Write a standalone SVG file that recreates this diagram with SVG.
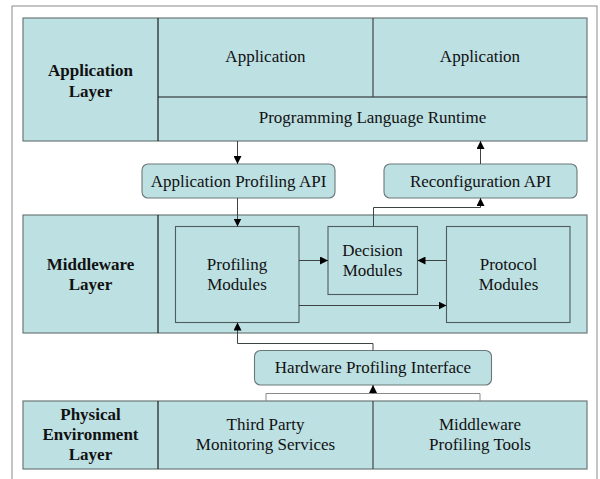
<svg xmlns="http://www.w3.org/2000/svg" width="600" height="479" viewBox="0 0 600 479">
  <style>
    .layer { fill: #bde0e3; stroke: #6b7878; stroke-width: 1.2; }
    .div { stroke: #1a1a1a; stroke-width: 1.2; fill: none; }
    .mod { fill: #bde0e3; stroke: #4f5c5c; stroke-width: 1.1; }
    .api { fill: #bde0e3; stroke: #6b7878; stroke-width: 1.1; }
    .t { font-family: "Liberation Serif", "Times New Roman", serif; font-size: 17px; fill: #111; text-anchor: middle; }
    .b { font-weight: bold; }
    .wire { fill: none; stroke: #3d4444; stroke-width: 1; }
    .light { fill: none; stroke: #8a8a8a; stroke-width: 1; }
  </style>
  <defs>
    <marker id="arr" viewBox="0 0 8 8" refX="8" refY="4" markerWidth="8" markerHeight="8" markerUnits="userSpaceOnUse" orient="auto">
      <path d="M0,0 L8,4 L0,8 Z" fill="#000"/>
    </marker>
  </defs>

  <!-- page frame -->
  <rect x="12" y="6" width="585" height="490" fill="#fff" stroke="#8a8a8a" stroke-width="1"/>

  <!-- Application layer -->
  <g id="application-layer">
    <rect class="layer" x="23" y="18" width="564" height="123"/>
    <line class="div" x1="158" y1="18" x2="158" y2="141"/>
    <line class="div" x1="158" y1="97" x2="587" y2="97"/>
    <line class="div" x1="373" y1="18" x2="373" y2="97" style="stroke:#444"/>
    <text class="t b" x="90.5" y="76">Application</text>
    <text class="t b" x="90.5" y="97">Layer</text>
  </g>
  <g id="application-1"><text class="t" x="265.5" y="62">Application</text></g>
  <g id="application-2"><text class="t" x="480" y="62">Application</text></g>
  <g id="runtime"><text class="t" x="372.5" y="123">Programming Language Runtime</text></g>

  <!-- APIs -->
  <g id="app-profiling-api">
    <rect class="api" x="142" y="164" width="193" height="34" rx="6"/>
    <text class="t" x="238.5" y="187">Application Profiling API</text>
  </g>
  <g id="reconfiguration-api">
    <rect class="api" x="384" y="164" width="193" height="34" rx="6"/>
    <text class="t" x="480.5" y="187">Reconfiguration API</text>
  </g>

  <!-- Middleware layer -->
  <g id="middleware-layer">
    <rect class="layer" x="23" y="215" width="564" height="118"/>
    <line class="div" x1="158" y1="215" x2="158" y2="333"/>
    <text class="t b" x="90.5" y="270">Middleware</text>
    <text class="t b" x="90.5" y="290">Layer</text>
  </g>
  <g id="profiling-modules">
    <rect class="mod" x="175.5" y="226.5" width="123.5" height="96"/>
    <text class="t" x="237" y="270">Profiling</text>
    <text class="t" x="237" y="290">Modules</text>
  </g>
  <g id="decision-modules">
    <rect class="mod" x="328" y="226.5" width="89.5" height="68"/>
    <text class="t" x="372.5" y="256">Decision</text>
    <text class="t" x="372.5" y="276">Modules</text>
  </g>
  <g id="protocol-modules">
    <rect class="mod" x="446.5" y="226.5" width="123.5" height="96"/>
    <text class="t" x="508.5" y="270">Protocol</text>
    <text class="t" x="508.5" y="290">Modules</text>
  </g>

  <!-- Hardware interface -->
  <g id="hardware-profiling-interface">
    <rect class="api" x="254.5" y="350.5" width="237" height="34.5" rx="6"/>
    <text class="t" x="373" y="373">Hardware Profiling Interface</text>
  </g>

  <!-- Physical layer -->
  <g id="physical-layer">
    <rect class="layer" x="23" y="401" width="564" height="68"/>
    <line class="div" x1="158" y1="401" x2="158" y2="469"/>
    <line class="div" x1="373" y1="401" x2="373" y2="469" style="stroke:#444"/>
    <text class="t b" x="90.5" y="420">Physical</text>
    <text class="t b" x="90.5" y="440">Environment</text>
    <text class="t b" x="90.5" y="460">Layer</text>
  </g>
  <g id="third-party">
    <text class="t" x="265.5" y="430">Third Party</text>
    <text class="t" x="265.5" y="450">Monitoring Services</text>
  </g>
  <g id="profiling-tools">
    <text class="t" x="480" y="430">Middleware</text>
    <text class="t" x="480" y="450">Profiling Tools</text>
  </g>

  <!-- connectors -->
  <g id="connectors">
    <path class="wire" d="M237.5,141 V164" marker-end="url(#arr)"/>
    <path class="wire" d="M237.5,198 V226.5" marker-end="url(#arr)"/>
    <path class="wire" d="M480.5,164 V141" marker-end="url(#arr)"/>
    <path class="wire" d="M373.5,226.5 V207.5 H480.5 V198" marker-end="url(#arr)"/>
    <path class="wire" d="M299,260.5 H328" marker-end="url(#arr)"/>
    <path class="wire" d="M446.5,260.5 H417.5" marker-end="url(#arr)"/>
    <path class="wire" d="M299,305.5 H446.5" marker-end="url(#arr)"/>
    <path class="wire" d="M373,350.5 V343.5 H237.5 V322.5" marker-end="url(#arr)"/>
    <path class="light" d="M266,401 V393.5 H480 V401"/>
    <path class="wire" d="M373,393.5 V385" marker-end="url(#arr)"/>
  </g>
</svg>
